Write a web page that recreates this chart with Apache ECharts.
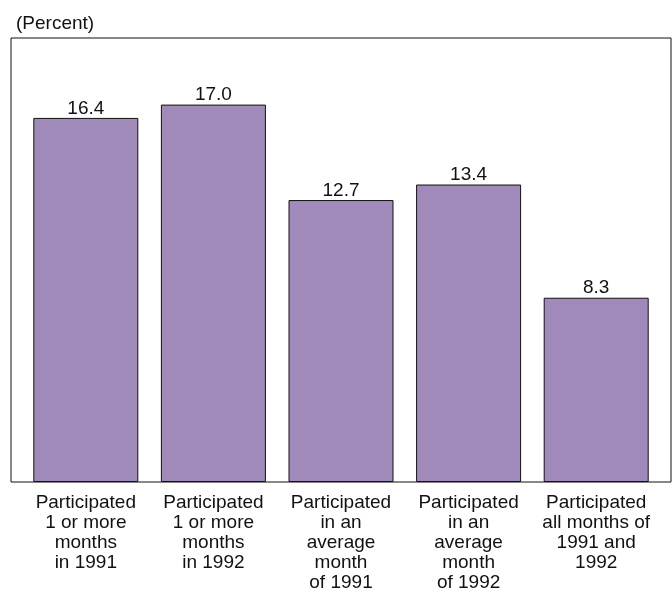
<!DOCTYPE html>
<html>
<head>
<meta charset="utf-8">
<script src="https://cdn.jsdelivr.net/npm/echarts@6/dist/echarts.min.js"></script>
<style>html,body{margin:0;padding:0;background:#fff}#c{width:672px;height:594px}</style>
</head>
<body>
<div id="c"></div>
<script>
var categories = [
  'Participated\n1 or more\nmonths\nin 1991',
  'Participated\n1 or more\nmonths\nin 1992',
  'Participated\nin an\naverage\nmonth\nof 1991',
  'Participated\nin an\naverage\nmonth\nof 1992',
  'Participated\nall months of\n1991 and\n1992'
];
var values = [16.4, 17.0, 12.7, 13.4, 8.3];
var unitLabel = '(Percent)';

var chart = echarts.init(document.getElementById('c'), null, {renderer: 'canvas'});
var font = 'Liberation Sans, Arial, sans-serif';
chart.setOption({
  animation: false,
  textStyle: {fontFamily: font},
  title: {
    text: unitLabel, left: 11, top: 9,
    textStyle: {fontFamily: font, fontSize: 19, fontWeight: 'normal', color: '#111'}
  },
  grid: [
    {left: 22, right: 12, top: 38, bottom: 112, containLabel: false},
    {left: 11, right: 1, top: 38, bottom: 112, show: true, borderColor: '#111', borderWidth: 1, backgroundColor: 'transparent'}
  ],
  xAxis: [
    {
      type: 'category', gridIndex: 0, data: categories,
      axisLine: {show: false}, axisTick: {show: false},
      axisLabel: {interval: 0, fontSize: 19, lineHeight: 20, color: '#111', margin: 11, fontFamily: font, verticalAlign: 'top'}
    },
    {type: 'value', gridIndex: 1, show: false, splitLine: {show: false}}
  ],
  yAxis: [
    {type: 'value', gridIndex: 0, min: 0, max: 20, show: false, splitLine: {show: false}},
    {type: 'value', gridIndex: 1, show: false, splitLine: {show: false}}
  ],
  series: [{
    type: 'bar', xAxisIndex: 0, yAxisIndex: 0, data: values, barWidth: 105,
    itemStyle: {color: '#a08ab9', borderColor: '#111', borderWidth: 1},
    label: {show: true, position: 'top', distance: 0, fontSize: 19, color: '#111', fontFamily: font,
      formatter: function (p) { return p.value.toFixed(1); }}
  }]
});
</script>
</body>
</html>
